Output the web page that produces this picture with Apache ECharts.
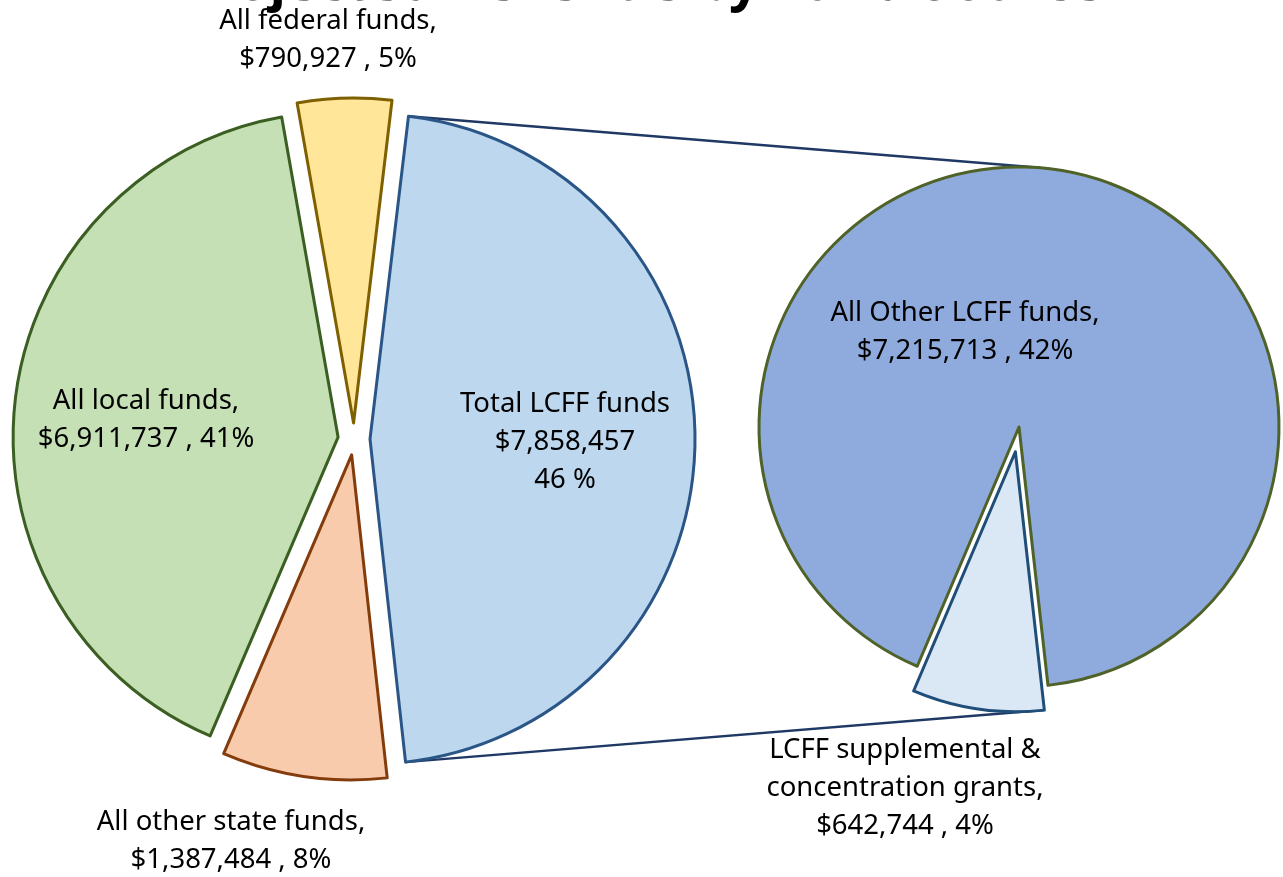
<!DOCTYPE html>
<html><head><meta charset="utf-8">
<script src="https://cdn.jsdelivr.net/npm/echarts@6/dist/echarts.min.js"></script>
<style>html,body{margin:0;padding:0;background:#fff}#c{width:1283px;height:877px}</style>
</head><body><div id="c"></div>
<script>
// ---- data ----
const titleText = 'Projected Revenue by Fund Source';
const mainCategories = ['All federal funds', 'Total LCFF funds', 'All other state funds', 'All local funds'];
const mainValues = [790927, 7858457, 1387484, 6911737];
const mainPctLabels = ['5%', '46 %', '8%', '41%'];
const lcffCategories = ['LCFF supplemental &\nconcentration grants', 'All Other LCFF funds'];
const lcffValues = [642744, 7215713];
const lcffPctLabels = ['4%', '42%'];

// ---- layout / style ----
const FONT = 'Noto Sans';
const C1 = [354, 439], R1 = 325, OFF1 = 16, START1 = -10;   // start: degrees clockwise from top
const C2 = [1019, 427], R2 = 260, OFF2 = 25, START2 = 173.6;
const mainFill = ['#ffe699', '#bdd7ee', '#f8cbad', '#c5e0b4'];
const mainBorder = ['#7f6000', '#2a5587', '#843c0c', '#3b5e22'];
const lcffFill = ['#dae7f5', '#8faadc'];
const lcffBorder = ['#1f4e79', '#4f6228'];
const mainLabelPos = [[328, 40], [565, 442], [231, 841], [146, 420]];
const lcffLabelPos = [[905, 788], [965, 332]];

const fmt = v => v.toLocaleString('en-US');
const rad = d => d * Math.PI / 180;
const pt = (c, r, deg) => [c[0] + r * Math.sin(rad(deg)), c[1] - r * Math.cos(rad(deg))];

// connector geometry derived from the pie layout
const T1 = mainValues.reduce((a, b) => a + b, 0);
const lcStart = START1 + 360 * mainValues[0] / T1;
const lcEnd = lcStart + 360 * mainValues[1] / T1;
const lcMid = (lcStart + lcEnd) / 2;
const lcC = pt(C1, OFF1, lcMid);
const topCorner = pt(lcC, R1, lcStart);
const botCorner = pt(lcC, R1, lcEnd);
const T2 = lcffValues.reduce((a, b) => a + b, 0);
const supEnd = START2 + 360 * lcffValues[0] / T2;
const supC = pt(C2, OFF2, (START2 + supEnd) / 2);
const supCorner = pt(supC, R2, START2);
const dx = C2[0] - topCorner[0], dy = C2[1] - topCorner[1];
const dist = Math.hypot(dx, dy);
const dir = Math.atan2(dy, dx) - Math.asin(R2 / dist);
const tl = Math.sqrt(dist * dist - R2 * R2);
const tangent = [topCorner[0] + tl * Math.cos(dir), topCorner[1] + tl * Math.sin(dir)];

// label texts built from the data
const mainLabels = mainCategories.map((n, i) => i === 1
  ? n + '\n$' + fmt(mainValues[i]) + '\n' + mainPctLabels[i]
  : n + ',\n$' + fmt(mainValues[i]) + ' , ' + mainPctLabels[i]);
const lcffLabels = lcffCategories.map((n, i) => n + ',\n$' + fmt(lcffValues[i]) + ' , ' + lcffPctLabels[i]);

const textEl = (text, p) => ({
  type: 'text', z: 10, silent: true, x: p[0], y: p[1],
  style: {
    text, fill: '#000', font: '27.5px "' + FONT + '"', lineHeight: 38,
    textAlign: 'center', textVerticalAlign: 'middle', align: 'center', verticalAlign: 'middle'
  }
});

const chart = echarts.init(document.getElementById('c'), null, { renderer: 'canvas' });
chart.setOption({
  animation: false,
  backgroundColor: '#fff',
  title: {
    text: titleText, left: 'center', top: -47,
    textStyle: { fontFamily: FONT, fontSize: 54, fontWeight: 'bold', color: '#000' }
  },
  graphic: [
    { type: 'polyline', z: 1, silent: true,
      shape: { points: [topCorner, tangent] },
      style: { stroke: '#1f3864', lineWidth: 2.5, fill: null } },
    { type: 'polyline', z: 1, silent: true,
      shape: { points: [botCorner, supCorner] },
      style: { stroke: '#1f3864', lineWidth: 2.5, fill: null } },
    ...mainLabels.map((t, i) => textEl(t, mainLabelPos[i])),
    ...lcffLabels.map((t, i) => textEl(t, lcffLabelPos[i]))
  ],
  series: [
    {
      type: 'pie', z: 3, center: C1, radius: R1, startAngle: 90 - START1, clockwise: true,
      selectedMode: 'multiple', selectedOffset: OFF1,
      emphasis: { disabled: true }, label: { show: false }, labelLine: { show: false },
      data: mainCategories.map((n, i) => ({
        name: n, value: mainValues[i], selected: true,
        itemStyle: { color: mainFill[i], borderColor: mainBorder[i], borderWidth: 3 }
      }))
    },
    {
      type: 'pie', z: 3, center: C2, radius: R2, startAngle: 90 - START2, clockwise: true,
      selectedMode: 'multiple', selectedOffset: OFF2,
      emphasis: { disabled: true }, label: { show: false }, labelLine: { show: false },
      data: lcffCategories.map((n, i) => ({
        name: n, value: lcffValues[i], selected: i === 0,
        itemStyle: { color: lcffFill[i], borderColor: lcffBorder[i], borderWidth: 3 }
      }))
    }
  ]
});
</script>
</body></html>
